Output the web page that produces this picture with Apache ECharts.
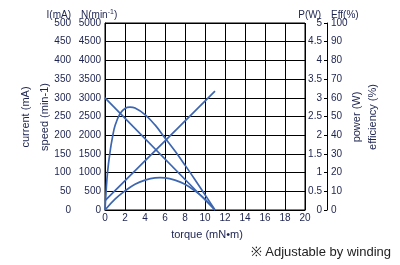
<!DOCTYPE html>
<html>
<head>
<meta charset="utf-8">
<script src="https://cdn.jsdelivr.net/npm/echarts@6/dist/echarts.min.js"></script>
<style>
html,body{margin:0;padding:0;background:#fff;}
#c{width:400px;height:265px;}
</style>
</head>
<body>
<div id="c"></div>
<script>
// ---- data ----
const speedTorque = [0, 11];
const speedValues = [3000, 0];              // min-1
const currentTorque = [0, 11];
const currentValues = [25, 318];            // mA
const powerTorque = [0, 1, 2, 3, 4, 5, 5.5, 6, 7, 8, 9, 10, 11];
const powerValues = [0, 0.29, 0.51, 0.69, 0.80, 0.86, 0.865, 0.86, 0.80, 0.69, 0.51, 0.29, 0]; // W
const effTorque = [0, 0.1, 0.25, 0.5, 0.75, 1, 1.5, 2, 2.5, 3, 4, 5, 6, 7, 8, 9, 10, 11];
const effValues = [0, 9, 20, 31, 39, 45, 51.5, 54.3, 55, 54.5, 51, 45.5, 38.5, 31.5, 24, 16.2, 8.2, 0]; // %

const xRange = {min: 0, max: 20, interval: 2};
const currentRange = {min: 0, max: 500, interval: 50};
const speedRange = {min: 0, max: 5000, interval: 500};
const powerRange = {min: 0, max: 5, interval: 0.5};
const effRange = {min: 0, max: 100, interval: 10};

const texts = {
  iTitle: 'I(mA)', nTitle: 'N(min', pTitle: 'P(W)', effTitle: 'Eff(%)',
  current: 'current (mA)', speed: 'speed (min-1)', power: 'power (W)', eff: 'efficiency (%)',
  torque: 'torque (mN\u2022m)', note: '\u203B Adjustable by winding'
};

const pairs = (xs, ys) => xs.map((x, i) => [x, ys[i]]);

const LABEL = '#1c2350';
const LINE = '#3d66b0';
const FAM = '"Liberation Sans", Arial, sans-serif';
const lblStyle = {color: LABEL, fontFamily: FAM, fontSize: 10, formatter: v => String(v)};

const chart = echarts.init(document.getElementById('c'), null, {renderer: 'canvas', width: 400, height: 265});

const lineSeries = (name, xs, ys, yIdx, smooth) => ({
  name, type: 'line', yAxisIndex: yIdx, data: pairs(xs, ys),
  showSymbol: false, smooth: smooth ? 0.4 : false,
  lineStyle: {color: LINE, width: 1.7}, itemStyle: {color: LINE}, animation: false
});

chart.setOption({
  animation: false,
  grid: {left: 105, top: 23, width: 200, height: 187, show: true, borderColor: '#000', borderWidth: 1, containLabel: false},
  xAxis: {
    type: 'value', min: xRange.min, max: xRange.max, interval: xRange.interval,
    axisLine: {show: true, lineStyle: {color: '#000', width: 1}},
    axisTick: {show: false},
    axisLabel: Object.assign({}, lblStyle, {margin: 3}),
    splitLine: {show: true, lineStyle: {color: '#000', width: 1}}
  },
  yAxis: [
    { // current
      type: 'value', position: 'left', offset: 29,
      min: currentRange.min, max: currentRange.max, interval: currentRange.interval,
      axisLine: {show: true, lineStyle: {color: '#000', width: 1}},
      axisTick: {show: true, inside: true, length: 3, lineStyle: {color: '#000'}},
      axisLabel: Object.assign({}, lblStyle, {margin: 5}),
      splitLine: {show: false}
    },
    { // speed
      type: 'value', position: 'left', offset: 0,
      min: speedRange.min, max: speedRange.max, interval: speedRange.interval,
      axisLine: {show: false}, axisTick: {show: false},
      axisLabel: Object.assign({}, lblStyle, {margin: 4}),
      splitLine: {show: true, lineStyle: {color: '#000', width: 1}}
    },
    { // power
      type: 'value', position: 'right', offset: 22,
      min: powerRange.min, max: powerRange.max, interval: powerRange.interval,
      axisLine: {show: true, lineStyle: {color: '#000', width: 1}},
      axisTick: {show: true, inside: true, length: 3, lineStyle: {color: '#000'}},
      axisLabel: Object.assign({}, lblStyle, {margin: 5, inside: true}),
      splitLine: {show: false}
    },
    { // efficiency
      type: 'value', position: 'right', offset: 22,
      min: effRange.min, max: effRange.max, interval: effRange.interval,
      axisLine: {show: false}, axisTick: {show: false},
      axisLabel: Object.assign({}, lblStyle, {margin: 4}),
      splitLine: {show: false}
    }
  ],
  series: [
    lineSeries('speed', speedTorque, speedValues, 1, false),
    lineSeries('current', currentTorque, currentValues, 0, false),
    lineSeries('power', powerTorque, powerValues, 2, true),
    lineSeries('efficiency', effTorque, effValues, 3, true)
  ],
  graphic: [
    {type: 'text', x: 71, y: 15, style: {text: texts.iTitle, fill: LABEL, font: '10px ' + FAM, align: 'right', verticalAlign: 'middle'}},
    {type: 'text', x: 81, y: 15, style: {text: '{a|' + texts.nTitle + '}{s|-1}{a|)}', fill: LABEL, font: '10px ' + FAM, align: 'left', verticalAlign: 'middle',
      rich: {a: {fill: LABEL, font: '10px ' + FAM}, s: {fill: LABEL, font: '7px ' + FAM, verticalAlign: 'top', padding: [0, 0, 5, 0]}}}},
    {type: 'text', x: 321, y: 15, style: {text: texts.pTitle, fill: LABEL, font: '10px ' + FAM, align: 'right', verticalAlign: 'middle'}},
    {type: 'text', x: 331, y: 15, style: {text: texts.effTitle, fill: LABEL, font: '10px ' + FAM, align: 'left', verticalAlign: 'middle'}},
    {type: 'text', x: 26, y: 117, rotation: Math.PI / 2, style: {text: texts.current, fill: LABEL, font: '11px ' + FAM, align: 'center', verticalAlign: 'middle'}},
    {type: 'text', x: 45, y: 117, rotation: Math.PI / 2, style: {text: texts.speed, fill: LABEL, font: '11px ' + FAM, align: 'center', verticalAlign: 'middle'}},
    {type: 'text', x: 357, y: 117, rotation: Math.PI / 2, style: {text: texts.power, fill: LABEL, font: '11px ' + FAM, align: 'center', verticalAlign: 'middle'}},
    {type: 'text', x: 373, y: 117, rotation: Math.PI / 2, style: {text: texts.eff, fill: LABEL, font: '11px ' + FAM, align: 'center', verticalAlign: 'middle'}},
    {type: 'text', x: 207, y: 235, style: {text: texts.torque, fill: LABEL, font: '11px ' + FAM, align: 'center', verticalAlign: 'middle'}},
    {type: 'text', x: 391, y: 252, style: {text: texts.note, fill: '#222', font: '13px ' + FAM, align: 'right', verticalAlign: 'middle'}}
  ]
});
</script>
</body>
</html>
